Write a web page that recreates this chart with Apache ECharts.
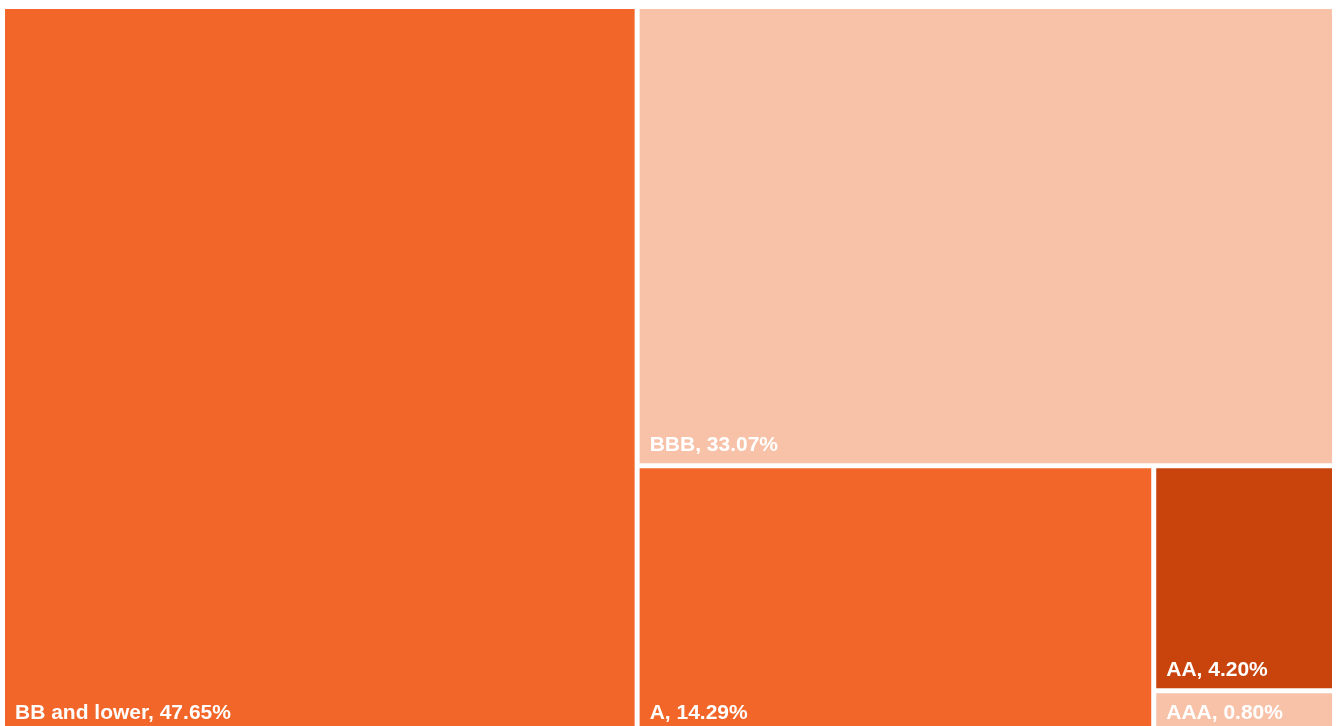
<!DOCTYPE html>
<html>
<head>
<meta charset="utf-8">
<style>
  html, body { margin: 0; padding: 0; background: #ffffff; }
  #chart { width: 1338px; height: 726px; }
</style>
<script src="https://cdn.jsdelivr.net/npm/echarts@6/dist/echarts.min.js"></script>
</head>
<body>
<div id="chart"></div>
<script>
// Credit rating breakdown (share of holdings, %)
const ratings = ['BB and lower', 'BBB', 'A', 'AA', 'AAA'];
const shares = [47.65, 33.07, 14.29, 4.20, 0.80];
const colors = ['#F26629', '#F8C2A9', '#F26629', '#C8440C', '#F8C2A9'];

const data = ratings.map((name, i) => ({
  name: name,
  value: shares[i],
  itemStyle: { color: colors[i] }
}));

const chart = echarts.init(document.getElementById('chart'), null, { renderer: 'canvas' });
chart.setOption({
  animation: false,
  series: [{
    type: 'treemap',
    left: 5,
    top: 9,
    right: 6,
    bottom: -5,
    roam: false,
    nodeClick: false,
    breadcrumb: { show: false },
    // plain squarified layout (no aspect bias)
    squareRatio: 1,
    levels: [{
      itemStyle: { gapWidth: 5, borderWidth: 0, borderColor: '#ffffff' }
    }],
    itemStyle: { borderWidth: 0 },
    label: {
      show: true,
      position: 'insideBottomLeft',
      distance: 5,
      offset: [0, 3],
      overflow: 'none',
      color: '#ffffff',
      fontFamily: 'Liberation Sans, Arial, sans-serif',
      fontWeight: 'bold',
      fontSize: 21,
      formatter: p => p.name + ', ' + p.value.toFixed(2) + '%'
    },
    emphasis: { disabled: true },
    data: data
  }]
});
</script>
</body>
</html>
